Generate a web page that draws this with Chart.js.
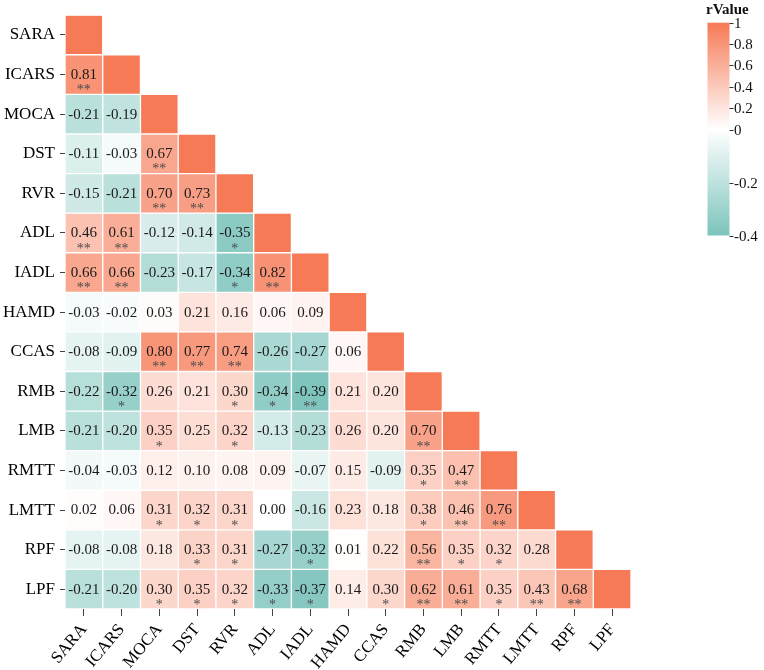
<!DOCTYPE html>
<html>
<head>
<meta charset="utf-8">
<script src="https://cdn.jsdelivr.net/npm/chart.js@4/dist/chart.umd.min.js"></script>
<style>
html,body{margin:0;padding:0;background:#fff;}
#wrap{width:764px;height:670px;position:relative;}
</style>
</head>
<body>
<div id="wrap"><canvas id="c"></canvas></div>
<script>
// Variables (rows top->bottom, columns left->right)
const vars = ['SARA','ICARS','MOCA','DST','RVR','ADL','IADL','HAMD','CCAS','RMB','LMB','RMTT','LMTT','RPF','LPF'];

// Lower-triangle correlation values (row i has i entries, columns 0..i-1)
const corrLower = [
  [],
  [0.81],
  [-0.21,-0.19],
  [-0.11,-0.03,0.67],
  [-0.15,-0.21,0.70,0.73],
  [0.46,0.61,-0.12,-0.14,-0.35],
  [0.66,0.66,-0.23,-0.17,-0.34,0.82],
  [-0.03,-0.02,0.03,0.21,0.16,0.06,0.09],
  [-0.08,-0.09,0.80,0.77,0.74,-0.26,-0.27,0.06],
  [-0.22,-0.32,0.26,0.21,0.30,-0.34,-0.39,0.21,0.20],
  [-0.21,-0.20,0.35,0.25,0.32,-0.13,-0.23,0.26,0.20,0.70],
  [-0.04,-0.03,0.12,0.10,0.08,0.09,-0.07,0.15,-0.09,0.35,0.47],
  [0.02,0.06,0.31,0.32,0.31,0.00,-0.16,0.23,0.18,0.38,0.46,0.76],
  [-0.08,-0.08,0.18,0.33,0.31,-0.27,-0.32,0.01,0.22,0.56,0.35,0.32,0.28],
  [-0.21,-0.20,0.30,0.35,0.32,-0.33,-0.37,0.14,0.30,0.62,0.61,0.35,0.43,0.68]
];

// Significance marks, same shape
const sigLower = [
  [],
  ['**'],
  ['',''],
  ['','','**'],
  ['','','**','**'],
  ['**','**','','','*'],
  ['**','**','','','*','**'],
  ['','','','','','',''],
  ['','','**','**','**','','',''],
  ['','*','','','*','*','**','',''],
  ['','','*','','*','','','','','**'],
  ['','','','','','','','','','*','**'],
  ['','','*','*','*','','','','','*','**','**'],
  ['','','','*','*','','*','','','**','*','*',''],
  ['','','*','*','*','*','*','','*','**','**','*','**','**']
];

// Colour bar ticks
const cbTicks = [1,0.8,0.6,0.4,0.2,0,-0.2,-0.4];
const cbTickLabels = ['1','0.8','0.6','0.4','0.2','0','-0.2','-0.4'];

const POS = [246,122,86];
const NEG = [124,196,188];
function cellColor(v){
  let t, c;
  if (v >= 0){ t = Math.min(1, v); c = POS; }
  else { t = Math.min(1, -v / 0.4); c = NEG; }
  const r = Math.round(255 + (c[0]-255)*t);
  const g = Math.round(255 + (c[1]-255)*t);
  const b = Math.round(255 + (c[2]-255)*t);
  return `rgb(${r},${g},${b})`;
}
function valueAt(r, c){ return r === c ? 1 : corrLower[r][c]; }

const datasets = vars.map((_, r) => ({
  label: vars[r],
  data: vars.map((_, c) => c <= r ? [r - 0.5, r + 0.5] : null),
  backgroundColor: vars.map((_, c) => c <= r ? cellColor(valueAt(r, c)) : 'rgba(0,0,0,0)'),
  borderColor: '#ffffff',
  borderWidth: 1,
  borderSkipped: false,
  grouped: false,
  barPercentage: 1,
  categoryPercentage: 1
}));

const SERIF = '"Liberation Serif", "Times New Roman", serif';

const cellText = {
  id: 'cellText',
  afterDatasetsDraw(chart){
    const ctx = chart.ctx;
    ctx.save();
    ctx.textAlign = 'center';
    ctx.textBaseline = 'middle';
    for (let r = 1; r < vars.length; r++){
      const meta = chart.getDatasetMeta(r);
      for (let c = 0; c < r; c++){
        const el = meta.data[c];
        if (!el) continue;
        const p = el.getCenterPoint();
        ctx.fillStyle = '#1a1a1a';
        ctx.font = '15px ' + SERIF;
        ctx.fillText(corrLower[r][c].toFixed(2), p.x, p.y + 0.5);
        const s = sigLower[r][c];
        if (s){
          ctx.fillStyle = '#4a4a4a';
          ctx.font = '14px ' + SERIF;
          ctx.fillText(s, p.x, p.y + 16);
        }
      }
    }
    ctx.restore();
  }
};

const colorBar = {
  id: 'colorBar',
  afterDraw(chart){
    const ctx = chart.ctx;
    const x0 = 707.5, x1 = 729.5;
    const yTop = 22.7, yZero = 129.5, yBot = 235.5;
    const yOf = v => v >= 0 ? yZero - v * (yZero - yTop) : yZero + (-v / 0.4) * (yBot - yZero);
    ctx.save();
    const g = ctx.createLinearGradient(0, yTop, 0, yBot);
    const steps = 20;
    for (let i = 0; i <= steps; i++){
      const y = yTop + (yBot - yTop) * i / steps;
      const v = y <= yZero ? (yZero - y) / (yZero - yTop) : -0.4 * (y - yZero) / (yBot - yZero);
      g.addColorStop(i / steps, cellColor(v));
    }
    ctx.fillStyle = g;
    ctx.fillRect(x0, yTop, x1 - x0, yBot - yTop);
    ctx.strokeStyle = '#333';
    ctx.lineWidth = 1;
    ctx.fillStyle = '#111';
    ctx.font = '15px ' + SERIF;
    ctx.textAlign = 'left';
    ctx.textBaseline = 'middle';
    cbTicks.forEach((v, i) => {
      const y = Math.round(yOf(v)) + 0.5;
      ctx.beginPath();
      ctx.moveTo(x1, y);
      ctx.lineTo(x1 + 4, y);
      ctx.stroke();
      ctx.fillText(cbTickLabels[i], x1 + 4.5, y + 0.5);
    });
    ctx.font = 'bold 15px ' + SERIF;
    ctx.textBaseline = 'alphabetic';
    ctx.fillText('rValue', 706, 14);
    ctx.restore();
  }
};

new Chart(document.getElementById('c'), {
  type: 'bar',
  data: { labels: vars, datasets },
  options: {
    responsive: true,
    maintainAspectRatio: false,
    animation: false,
    layout: { padding: { left: 0, top: 1, right: 133, bottom: 0 } },
    plugins: { legend: { display: false }, tooltip: { enabled: false } },
    scales: {
      x: {
        type: 'category',
        offset: true,
        grid: { display: true, offset: false, drawOnChartArea: false, drawTicks: true, tickLength: 7, tickColor: '#444', tickWidth: 1 },
        border: { display: false },
        ticks: {
          autoSkip: false, minRotation: 50, maxRotation: 50, padding: 4,
          color: '#000', font: { family: SERIF, size: 17 }
        },
        afterFit(s){ s.height = 61; }
      },
      y: {
        type: 'linear',
        reverse: true,
        min: -0.5,
        max: 14.5,
        afterBuildTicks(s){ s.ticks = vars.map((_, i) => ({ value: i })); },
        grid: { display: true, drawOnChartArea: false, drawTicks: true, tickLength: 5, tickColor: '#444', tickWidth: 1 },
        border: { display: false },
        ticks: {
          padding: 5, color: '#000', font: { family: SERIF, size: 17 },
          callback: v => vars[v]
        },
        afterFit(s){ s.width = 65; }
      }
    }
  },
  plugins: [cellText, colorBar]
});
</script>
</body>
</html>
